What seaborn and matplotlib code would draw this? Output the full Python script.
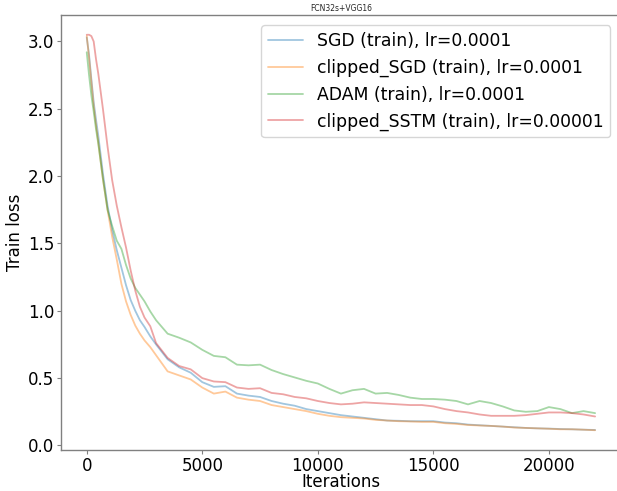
import matplotlib
matplotlib.use("Agg")
import matplotlib.pyplot as plt
import seaborn as sns
import pandas as pd

iterations = [0, 100, 200, 300, 400, 500, 700, 900, 1100, 1300, 1500, 1700, 1900, 2100, 2300, 2500, 2750,
              3000, 3500, 4000, 4500, 5000, 5500, 6000, 6500, 7000, 7500, 8000, 8500, 9000, 9500, 10000,
              10500, 11000, 11500, 12000, 12500, 13000, 13500, 14000, 14500, 15000, 15500, 16000, 16500,
              17000, 17500, 18000, 18500, 19000, 19500, 20000, 20500, 21000, 21500, 22000]

sgd = [3.03, 2.90, 2.72, 2.55, 2.42, 2.30, 2.02, 1.78, 1.60, 1.45, 1.32, 1.19, 1.08, 1.00, 0.93, 0.88, 0.81,
       0.75, 0.64, 0.58, 0.54, 0.47, 0.435, 0.44, 0.385, 0.37, 0.36, 0.33, 0.31, 0.295, 0.27, 0.255,
       0.24, 0.225, 0.215, 0.205, 0.195, 0.185, 0.183, 0.18, 0.18, 0.18, 0.17, 0.165, 0.155,
       0.15, 0.145, 0.14, 0.135, 0.13, 0.127, 0.125, 0.122, 0.12, 0.117, 0.115]

clipped_sgd = [3.04, 2.88, 2.70, 2.52, 2.38, 2.25, 1.98, 1.75, 1.55, 1.38, 1.20, 1.07, 0.97, 0.89, 0.83, 0.78, 0.73,
               0.67, 0.55, 0.52, 0.49, 0.43, 0.385, 0.40, 0.355, 0.34, 0.33, 0.30, 0.285, 0.27, 0.255, 0.235,
               0.22, 0.21, 0.205, 0.20, 0.19, 0.185, 0.18, 0.178, 0.175, 0.175, 0.165, 0.16, 0.152,
               0.148, 0.145, 0.14, 0.133, 0.13, 0.127, 0.124, 0.12, 0.12, 0.117, 0.113]

adam = [2.92, 2.75, 2.60, 2.48, 2.35, 2.24, 1.98, 1.75, 1.63, 1.52, 1.46, 1.34, 1.24, 1.17, 1.12, 1.07, 0.995,
        0.93, 0.83, 0.80, 0.765, 0.71, 0.665, 0.655, 0.60, 0.595, 0.60, 0.56, 0.53, 0.505, 0.48, 0.46,
        0.42, 0.385, 0.41, 0.42, 0.385, 0.39, 0.375, 0.355, 0.345, 0.345, 0.34, 0.33, 0.305,
        0.33, 0.315, 0.29, 0.26, 0.25, 0.255, 0.285, 0.27, 0.24, 0.255, 0.24]

clipped_sstm = [3.05, 3.05, 3.04, 3.00, 2.87, 2.76, 2.50, 2.22, 1.97, 1.78, 1.62, 1.47, 1.30, 1.15, 1.03, 0.95, 0.885,
                0.76, 0.65, 0.59, 0.565, 0.50, 0.475, 0.47, 0.43, 0.42, 0.425, 0.39, 0.38, 0.36, 0.35, 0.33,
                0.315, 0.305, 0.31, 0.32, 0.315, 0.31, 0.305, 0.30, 0.30, 0.29, 0.27, 0.255, 0.245,
                0.23, 0.22, 0.22, 0.22, 0.225, 0.235, 0.245, 0.245, 0.24, 0.23, 0.215]

labels = ["SGD (train), lr=0.0001", "clipped_SGD (train), lr=0.0001",
          "ADAM (train), lr=0.0001", "clipped_SSTM (train), lr=0.00001"]

frames = []
for lab, vals in zip(labels, [sgd, clipped_sgd, adam, clipped_sstm]):
    frames.append(pd.DataFrame({"Iterations": iterations, "Train loss": vals, "series": lab}))
df = pd.concat(frames, ignore_index=True)

sns.set_style("white")
plt.rcParams['font.family'] = ['DejaVu Sans']

fig = plt.figure(figsize=(6.17, 4.91), dpi=100)
ax = fig.add_axes([0.0994, 0.0835, 0.9063, 0.886])

sns.lineplot(data=df, x="Iterations", y="Train loss", hue="series", hue_order=labels,
             palette=sns.color_palette("tab10", 4), alpha=0.42, linewidth=1.3, ax=ax)

ax.margins(x=0.05, y=0.05)
ax.set_xticks([0, 5000, 10000, 15000, 20000])
ax.set_yticks([0.0, 0.5, 1.0, 1.5, 2.0, 2.5, 3.0])
ax.tick_params(axis='both', labelsize=12, length=2.7, pad=2.2, width=0.8, color='#808080',
               labelcolor='black', direction='out', left=True, bottom=True)
ax.set_xlabel("Iterations", fontsize=12, labelpad=-1.2, color='black')
ax.set_ylabel("Train loss", fontsize=12, labelpad=3, color='black')
ax.set_title("FCN32s+VGG16", fontsize=5.5, pad=3)
for side in ['left', 'bottom', 'top']:
    ax.spines[side].set_color('#808080')
    ax.spines[side].set_linewidth(1.0)
ax.spines['right'].set_visible(False)

leg = ax.legend(loc='upper right', fontsize=12.4, frameon=True, borderaxespad=0.6)
leg.get_frame().set_edgecolor('#cccccc')
for t in leg.get_texts():
    t.set_color('black')

fig.savefig("out.png", dpi=100)
